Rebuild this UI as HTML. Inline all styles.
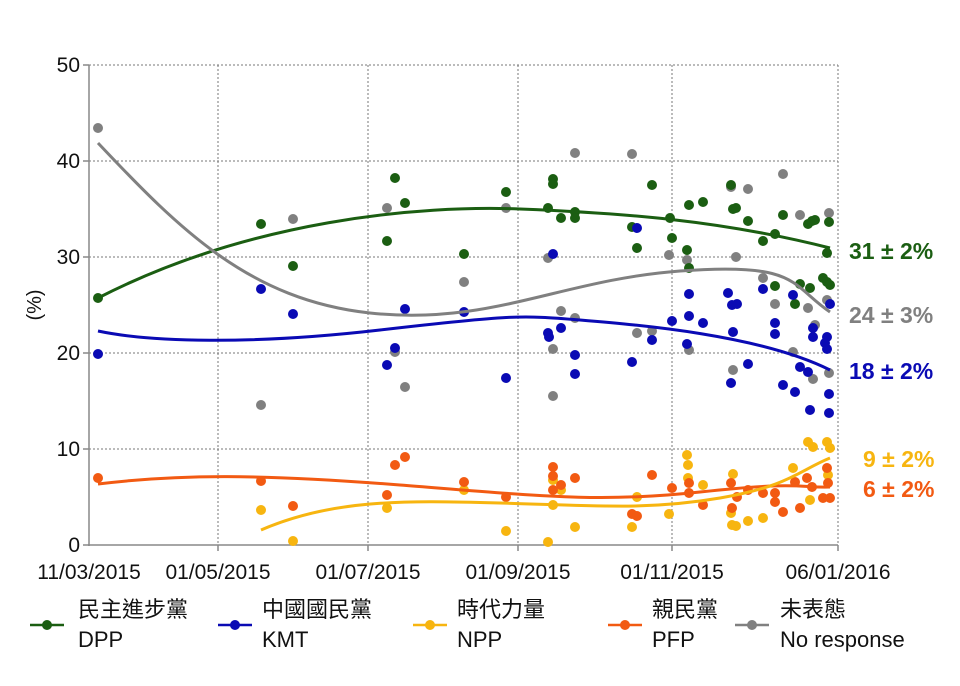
<!DOCTYPE html><html><head><meta charset="utf-8"><style>body{margin:0;background:#fff}svg{display:block}text{font-family:"Liberation Sans","Noto Sans CJK TC",sans-serif}</style></head><body>
<svg width="960" height="686" viewBox="0 0 960 686">
<g stroke="#777" stroke-width="1" stroke-dasharray="2,2" fill="none">
<line x1="89" y1="65" x2="838" y2="65"/><line x1="89" y1="161" x2="838" y2="161"/><line x1="89" y1="257" x2="838" y2="257"/><line x1="89" y1="353" x2="838" y2="353"/><line x1="89" y1="449" x2="838" y2="449"/>
<line x1="218" y1="65" x2="218" y2="545"/><line x1="368" y1="65" x2="368" y2="545"/><line x1="518" y1="65" x2="518" y2="545"/><line x1="672" y1="65" x2="672" y2="545"/><line x1="838" y1="65" x2="838" y2="545"/>
</g>
<g stroke="#888" stroke-width="1.5"><line x1="89" y1="65" x2="89" y2="546"/><line x1="88" y1="545" x2="838" y2="545"/>
<line x1="83" y1="65" x2="89" y2="65"/><line x1="83" y1="161" x2="89" y2="161"/><line x1="83" y1="257" x2="89" y2="257"/><line x1="83" y1="353" x2="89" y2="353"/><line x1="83" y1="449" x2="89" y2="449"/><line x1="83" y1="545" x2="89" y2="545"/>
<line x1="218" y1="545" x2="218" y2="551"/><line x1="368" y1="545" x2="368" y2="551"/><line x1="518" y1="545" x2="518" y2="551"/><line x1="672" y1="545" x2="672" y2="551"/><line x1="838" y1="545" x2="838" y2="551"/></g>
<g font-size="21" fill="#111" text-anchor="end"><text x="80" y="72">50</text><text x="80" y="168">40</text><text x="80" y="264">30</text><text x="80" y="360">20</text><text x="80" y="456">10</text><text x="80" y="552">0</text></g>
<g font-size="21" fill="#111" text-anchor="middle"><text x="89" y="579">11/03/2015</text><text x="218" y="579">01/05/2015</text><text x="368" y="579">01/07/2015</text><text x="518" y="579">01/09/2015</text><text x="672" y="579">01/11/2015</text><text x="838" y="579">06/01/2016</text></g>
<text x="0" y="0" font-size="20" fill="#111" text-anchor="middle" transform="translate(41,305) rotate(-90)">(%)</text>
<g fill="#808080">
<circle cx="98" cy="128" r="5"/><circle cx="261" cy="405" r="5"/><circle cx="293" cy="219" r="5"/><circle cx="387" cy="208" r="5"/><circle cx="395" cy="352" r="5"/><circle cx="405" cy="387" r="5"/><circle cx="464" cy="282" r="5"/><circle cx="506" cy="208" r="5"/><circle cx="548" cy="258" r="5"/><circle cx="553" cy="396" r="5"/><circle cx="553" cy="349" r="5"/><circle cx="561" cy="311" r="5"/><circle cx="575" cy="153" r="5"/><circle cx="575" cy="318" r="5"/><circle cx="632" cy="154" r="5"/><circle cx="637" cy="333" r="5"/><circle cx="652" cy="331" r="5"/><circle cx="669" cy="255" r="5"/><circle cx="687" cy="260" r="5"/><circle cx="689" cy="350" r="5"/><circle cx="731" cy="187" r="5"/><circle cx="736" cy="257" r="5"/><circle cx="733" cy="370" r="5"/><circle cx="748" cy="189" r="5"/><circle cx="763" cy="278" r="5"/><circle cx="775" cy="304" r="5"/><circle cx="783" cy="174" r="5"/><circle cx="793" cy="352" r="5"/><circle cx="800" cy="215" r="5"/><circle cx="808" cy="308" r="5"/><circle cx="813" cy="379" r="5"/><circle cx="815" cy="325" r="5"/><circle cx="827" cy="300" r="5"/><circle cx="829" cy="213" r="5"/><circle cx="829" cy="373" r="5"/>
</g>
<g fill="#1b5e12">
<circle cx="98" cy="298" r="5"/><circle cx="261" cy="224" r="5"/><circle cx="293" cy="266" r="5"/><circle cx="387" cy="241" r="5"/><circle cx="395" cy="178" r="5"/><circle cx="405" cy="203" r="5"/><circle cx="464" cy="254" r="5"/><circle cx="506" cy="192" r="5"/><circle cx="548" cy="208" r="5"/><circle cx="553" cy="179" r="5"/><circle cx="553" cy="184" r="5"/><circle cx="561" cy="218" r="5"/><circle cx="575" cy="212" r="5"/><circle cx="575" cy="218" r="5"/><circle cx="632" cy="227" r="5"/><circle cx="637" cy="248" r="5"/><circle cx="652" cy="185" r="5"/><circle cx="670" cy="218" r="5"/><circle cx="672" cy="238" r="5"/><circle cx="687" cy="250" r="5"/><circle cx="689" cy="268" r="5"/><circle cx="689" cy="205" r="5"/><circle cx="703" cy="202" r="5"/><circle cx="731" cy="185" r="5"/><circle cx="733" cy="209" r="5"/><circle cx="736" cy="208" r="5"/><circle cx="748" cy="221" r="5"/><circle cx="763" cy="241" r="5"/><circle cx="775" cy="234" r="5"/><circle cx="783" cy="215" r="5"/><circle cx="775" cy="286" r="5"/><circle cx="800" cy="284" r="5"/><circle cx="810" cy="288" r="5"/><circle cx="795" cy="304" r="5"/><circle cx="808" cy="224" r="5"/><circle cx="812" cy="221" r="5"/><circle cx="815" cy="220" r="5"/><circle cx="829" cy="222" r="5"/><circle cx="827" cy="253" r="5"/><circle cx="823" cy="278" r="5"/><circle cx="827" cy="282" r="5"/><circle cx="830" cy="285" r="5"/>
</g>
<g fill="#0a0ab4">
<circle cx="98" cy="354" r="5"/><circle cx="261" cy="289" r="5"/><circle cx="293" cy="314" r="5"/><circle cx="387" cy="365" r="5"/><circle cx="395" cy="348" r="5"/><circle cx="405" cy="309" r="5"/><circle cx="464" cy="312" r="5"/><circle cx="506" cy="378" r="5"/><circle cx="548" cy="333" r="5"/><circle cx="553" cy="254" r="5"/><circle cx="549" cy="337" r="5"/><circle cx="561" cy="328" r="5"/><circle cx="575" cy="355" r="5"/><circle cx="575" cy="374" r="5"/><circle cx="632" cy="362" r="5"/><circle cx="637" cy="228" r="5"/><circle cx="652" cy="340" r="5"/><circle cx="672" cy="321" r="5"/><circle cx="687" cy="344" r="5"/><circle cx="689" cy="294" r="5"/><circle cx="689" cy="316" r="5"/><circle cx="703" cy="323" r="5"/><circle cx="728" cy="293" r="5"/><circle cx="732" cy="305" r="5"/><circle cx="737" cy="304" r="5"/><circle cx="733" cy="332" r="5"/><circle cx="731" cy="383" r="5"/><circle cx="748" cy="364" r="5"/><circle cx="763" cy="289" r="5"/><circle cx="775" cy="323" r="5"/><circle cx="775" cy="334" r="5"/><circle cx="783" cy="385" r="5"/><circle cx="793" cy="295" r="5"/><circle cx="795" cy="392" r="5"/><circle cx="800" cy="367" r="5"/><circle cx="808" cy="372" r="5"/><circle cx="810" cy="410" r="5"/><circle cx="813" cy="328" r="5"/><circle cx="813" cy="337" r="5"/><circle cx="827" cy="337" r="5"/><circle cx="825" cy="343" r="5"/><circle cx="827" cy="349" r="5"/><circle cx="830" cy="304" r="5"/><circle cx="829" cy="394" r="5"/><circle cx="829" cy="413" r="5"/>
</g>
<g fill="#f7b510">
<circle cx="261" cy="510" r="5"/><circle cx="293" cy="541" r="5"/><circle cx="387" cy="508" r="5"/><circle cx="464" cy="490" r="5"/><circle cx="506" cy="531" r="5"/><circle cx="548" cy="542" r="5"/><circle cx="553" cy="480" r="5"/><circle cx="561" cy="490" r="5"/><circle cx="575" cy="527" r="5"/><circle cx="553" cy="505" r="5"/><circle cx="632" cy="527" r="5"/><circle cx="637" cy="497" r="5"/><circle cx="669" cy="514" r="5"/><circle cx="687" cy="455" r="5"/><circle cx="688" cy="465" r="5"/><circle cx="688" cy="478" r="5"/><circle cx="703" cy="485" r="5"/><circle cx="733" cy="474" r="5"/><circle cx="731" cy="513" r="5"/><circle cx="732" cy="525" r="5"/><circle cx="736" cy="526" r="5"/><circle cx="748" cy="521" r="5"/><circle cx="763" cy="518" r="5"/><circle cx="793" cy="468" r="5"/><circle cx="808" cy="442" r="5"/><circle cx="813" cy="447" r="5"/><circle cx="827" cy="442" r="5"/><circle cx="830" cy="448" r="5"/><circle cx="828" cy="475" r="5"/><circle cx="810" cy="500" r="5"/>
</g>
<g fill="#f25a12">
<circle cx="98" cy="478" r="5"/><circle cx="261" cy="481" r="5"/><circle cx="293" cy="506" r="5"/><circle cx="387" cy="495" r="5"/><circle cx="395" cy="465" r="5"/><circle cx="405" cy="457" r="5"/><circle cx="464" cy="482" r="5"/><circle cx="506" cy="497" r="5"/><circle cx="553" cy="467" r="5"/><circle cx="553" cy="476" r="5"/><circle cx="561" cy="485" r="5"/><circle cx="575" cy="478" r="5"/><circle cx="553" cy="490" r="5"/><circle cx="632" cy="514" r="5"/><circle cx="637" cy="516" r="5"/><circle cx="652" cy="475" r="5"/><circle cx="672" cy="488" r="5"/><circle cx="689" cy="483" r="5"/><circle cx="689" cy="493" r="5"/><circle cx="703" cy="505" r="5"/><circle cx="731" cy="483" r="5"/><circle cx="732" cy="508" r="5"/><circle cx="737" cy="497" r="5"/><circle cx="748" cy="490" r="5"/><circle cx="763" cy="493" r="5"/><circle cx="775" cy="493" r="5"/><circle cx="775" cy="502" r="5"/><circle cx="783" cy="512" r="5"/><circle cx="800" cy="508" r="5"/><circle cx="795" cy="482" r="5"/><circle cx="807" cy="478" r="5"/><circle cx="812" cy="487" r="5"/><circle cx="827" cy="468" r="5"/><circle cx="828" cy="483" r="5"/><circle cx="823" cy="498" r="5"/><circle cx="830" cy="498" r="5"/>
</g>
<g fill="none" stroke-width="3">
<path d="M98,298 C250,220 420,205 520,209 S720,220 830,248" stroke="#1b5e12"/>
<path d="M98,143 C180,230 250,300 370,313 S560,280 680,271 S790,285 830,312" stroke="#808080"/>
<path d="M98,331 C150,342 250,345 380,330 S520,315 580,320 S760,335 830,370" stroke="#0a0ab4"/>
<path d="M98,484 C180,474 260,474 400,485 S600,503 700,492 S800,488 830,487" stroke="#f25a12"/>
<path d="M261,530 C330,500 400,500 500,503 S650,510 720,498 S800,470 830,458" stroke="#f7b510"/>
</g>
<g font-size="23" font-weight="bold">
<text x="849" y="259" fill="#1b5e12">31 ± 2%</text>
<text x="849" y="323" fill="#808080">24 ± 3%</text>
<text x="849" y="379" fill="#0a0ab4">18 ± 2%</text>
<text x="863" y="467" fill="#f7b510">9 ± 2%</text>
<text x="863" y="497" fill="#f25a12">6 ± 2%</text>
</g>
<g stroke-width="2.5">
<line x1="30" y1="625" x2="64" y2="625" stroke="#1b5e12"/><circle cx="47" cy="625" r="5" fill="#1b5e12"/>
<line x1="218" y1="625" x2="252" y2="625" stroke="#0a0ab4"/><circle cx="235" cy="625" r="5" fill="#0a0ab4"/>
<line x1="413" y1="625" x2="447" y2="625" stroke="#f7b510"/><circle cx="430" cy="625" r="5" fill="#f7b510"/>
<line x1="608" y1="625" x2="642" y2="625" stroke="#f25a12"/><circle cx="625" cy="625" r="5" fill="#f25a12"/>
<line x1="735" y1="625" x2="769" y2="625" stroke="#808080"/><circle cx="752" cy="625" r="5" fill="#808080"/>
</g>
<g font-size="22" fill="#111">
<text x="78" y="617">民主進步黨</text><text x="78" y="647">DPP</text>
<text x="262" y="617">中國國民黨</text><text x="262" y="647">KMT</text>
<text x="457" y="617">時代力量</text><text x="457" y="647">NPP</text>
<text x="652" y="617">親民黨</text><text x="652" y="647">PFP</text>
<text x="780" y="617">未表態</text><text x="780" y="647">No response</text>
</g>
</svg></body></html>
